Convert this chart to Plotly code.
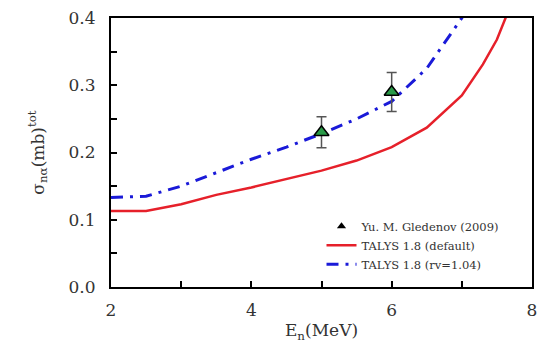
import plotly.graph_objects as go

# TALYS 1.8 default parameters
energy_default = [2.0, 2.5, 3.0, 3.5, 4.0, 4.5, 5.0, 5.5, 6.0, 6.5, 7.0, 7.3, 7.5, 7.7]
sigma_default = [0.113, 0.113, 0.123, 0.137, 0.148, 0.161, 0.173, 0.188, 0.208, 0.237, 0.285, 0.331, 0.368, 0.42]

# TALYS 1.8 with rv = 1.04
energy_rv = [2.0, 2.5, 3.0, 3.5, 4.0, 4.5, 5.0, 5.5, 6.0, 6.5, 7.0, 7.2]
sigma_rv = [0.133, 0.135, 0.150, 0.170, 0.190, 0.208, 0.228, 0.250, 0.276, 0.325, 0.400, 0.44]

# Measured data (Gledenov 2009)
energy_exp = [5.0, 6.0]
sigma_exp = [0.230, 0.290]
sigma_err = [0.023, 0.029]

serif = "DejaVu Serif"

fig = go.Figure()

fig.add_trace(go.Scatter(
    x=energy_default, y=sigma_default, mode="lines",
    line=dict(color="#e6202a", width=2.5),
    name="TALYS 1.8 (default)", legendrank=2,
))
fig.add_trace(go.Scatter(
    x=energy_rv, y=sigma_rv, mode="lines",
    line=dict(color="#1a1ad8", width=3, dash="12px,7px,3px,7px"),
    name="TALYS 1.8 (rv=1.04)", legendrank=3,
))
fig.add_trace(go.Scatter(
    x=energy_exp, y=sigma_exp, mode="markers",
    marker=dict(symbol="triangle-up", size=13, color="#2a9a48",
                line=dict(color="black", width=1.5)),
    error_y=dict(type="data", array=sigma_err, visible=True,
                 color="#555555", thickness=1.5, width=5),
    showlegend=False,
))
# legend entry for the measured data
fig.add_trace(go.Scatter(
    x=[None], y=[None], mode="markers",
    marker=dict(symbol="triangle-up", size=8, color="black"),
    name="Yu. M. Gledenov (2009)", legendrank=1,
))

axis_common = dict(
    showline=True, linecolor="black", linewidth=2, mirror=True,
    ticks="inside", ticklen=6, tickwidth=1.5, tickcolor="black",
    showgrid=False, zeroline=False,
    tickfont=dict(family=serif, size=17, color="#333333"),
)

fig.update_xaxes(
    range=[2, 8], tickvals=[2, 4, 6, 8], ticklabelstandoff=7,
    minor=dict(dtick=1, ticks="inside", ticklen=6, tickwidth=1.5, tickcolor="black"),
    title=dict(text="E<sub>n</sub>(MeV)", font=dict(family=serif, size=17, color="#333333"),
               standoff=5),
    **axis_common,
)
fig.update_yaxes(
    range=[0, 0.4], dtick=0.1, tickformat=".1f", ticklabelstandoff=10,
    minor=dict(dtick=0.05, ticks="inside", ticklen=6, tickwidth=1.5, tickcolor="black"),
    title=dict(text="σ<sub>nα</sub>(mb)<sup>tot</sup>", font=dict(family=serif, size=17, color="#333333"),
               standoff=20),
    **axis_common,
)

fig.update_layout(
    width=545, height=355,
    margin=dict(l=111, r=8, t=13, b=68),
    paper_bgcolor="white", plot_bgcolor="white",
    font=dict(family=serif),
    showlegend=True,
    legend=dict(
        x=0.50, y=0.28, xanchor="left", yanchor="top",
        bgcolor="rgba(0,0,0,0)", tracegroupgap=0,
        font=dict(family=serif, size=11.5, color="#333333"),
    ),
)

fig.write_html("out.html")
